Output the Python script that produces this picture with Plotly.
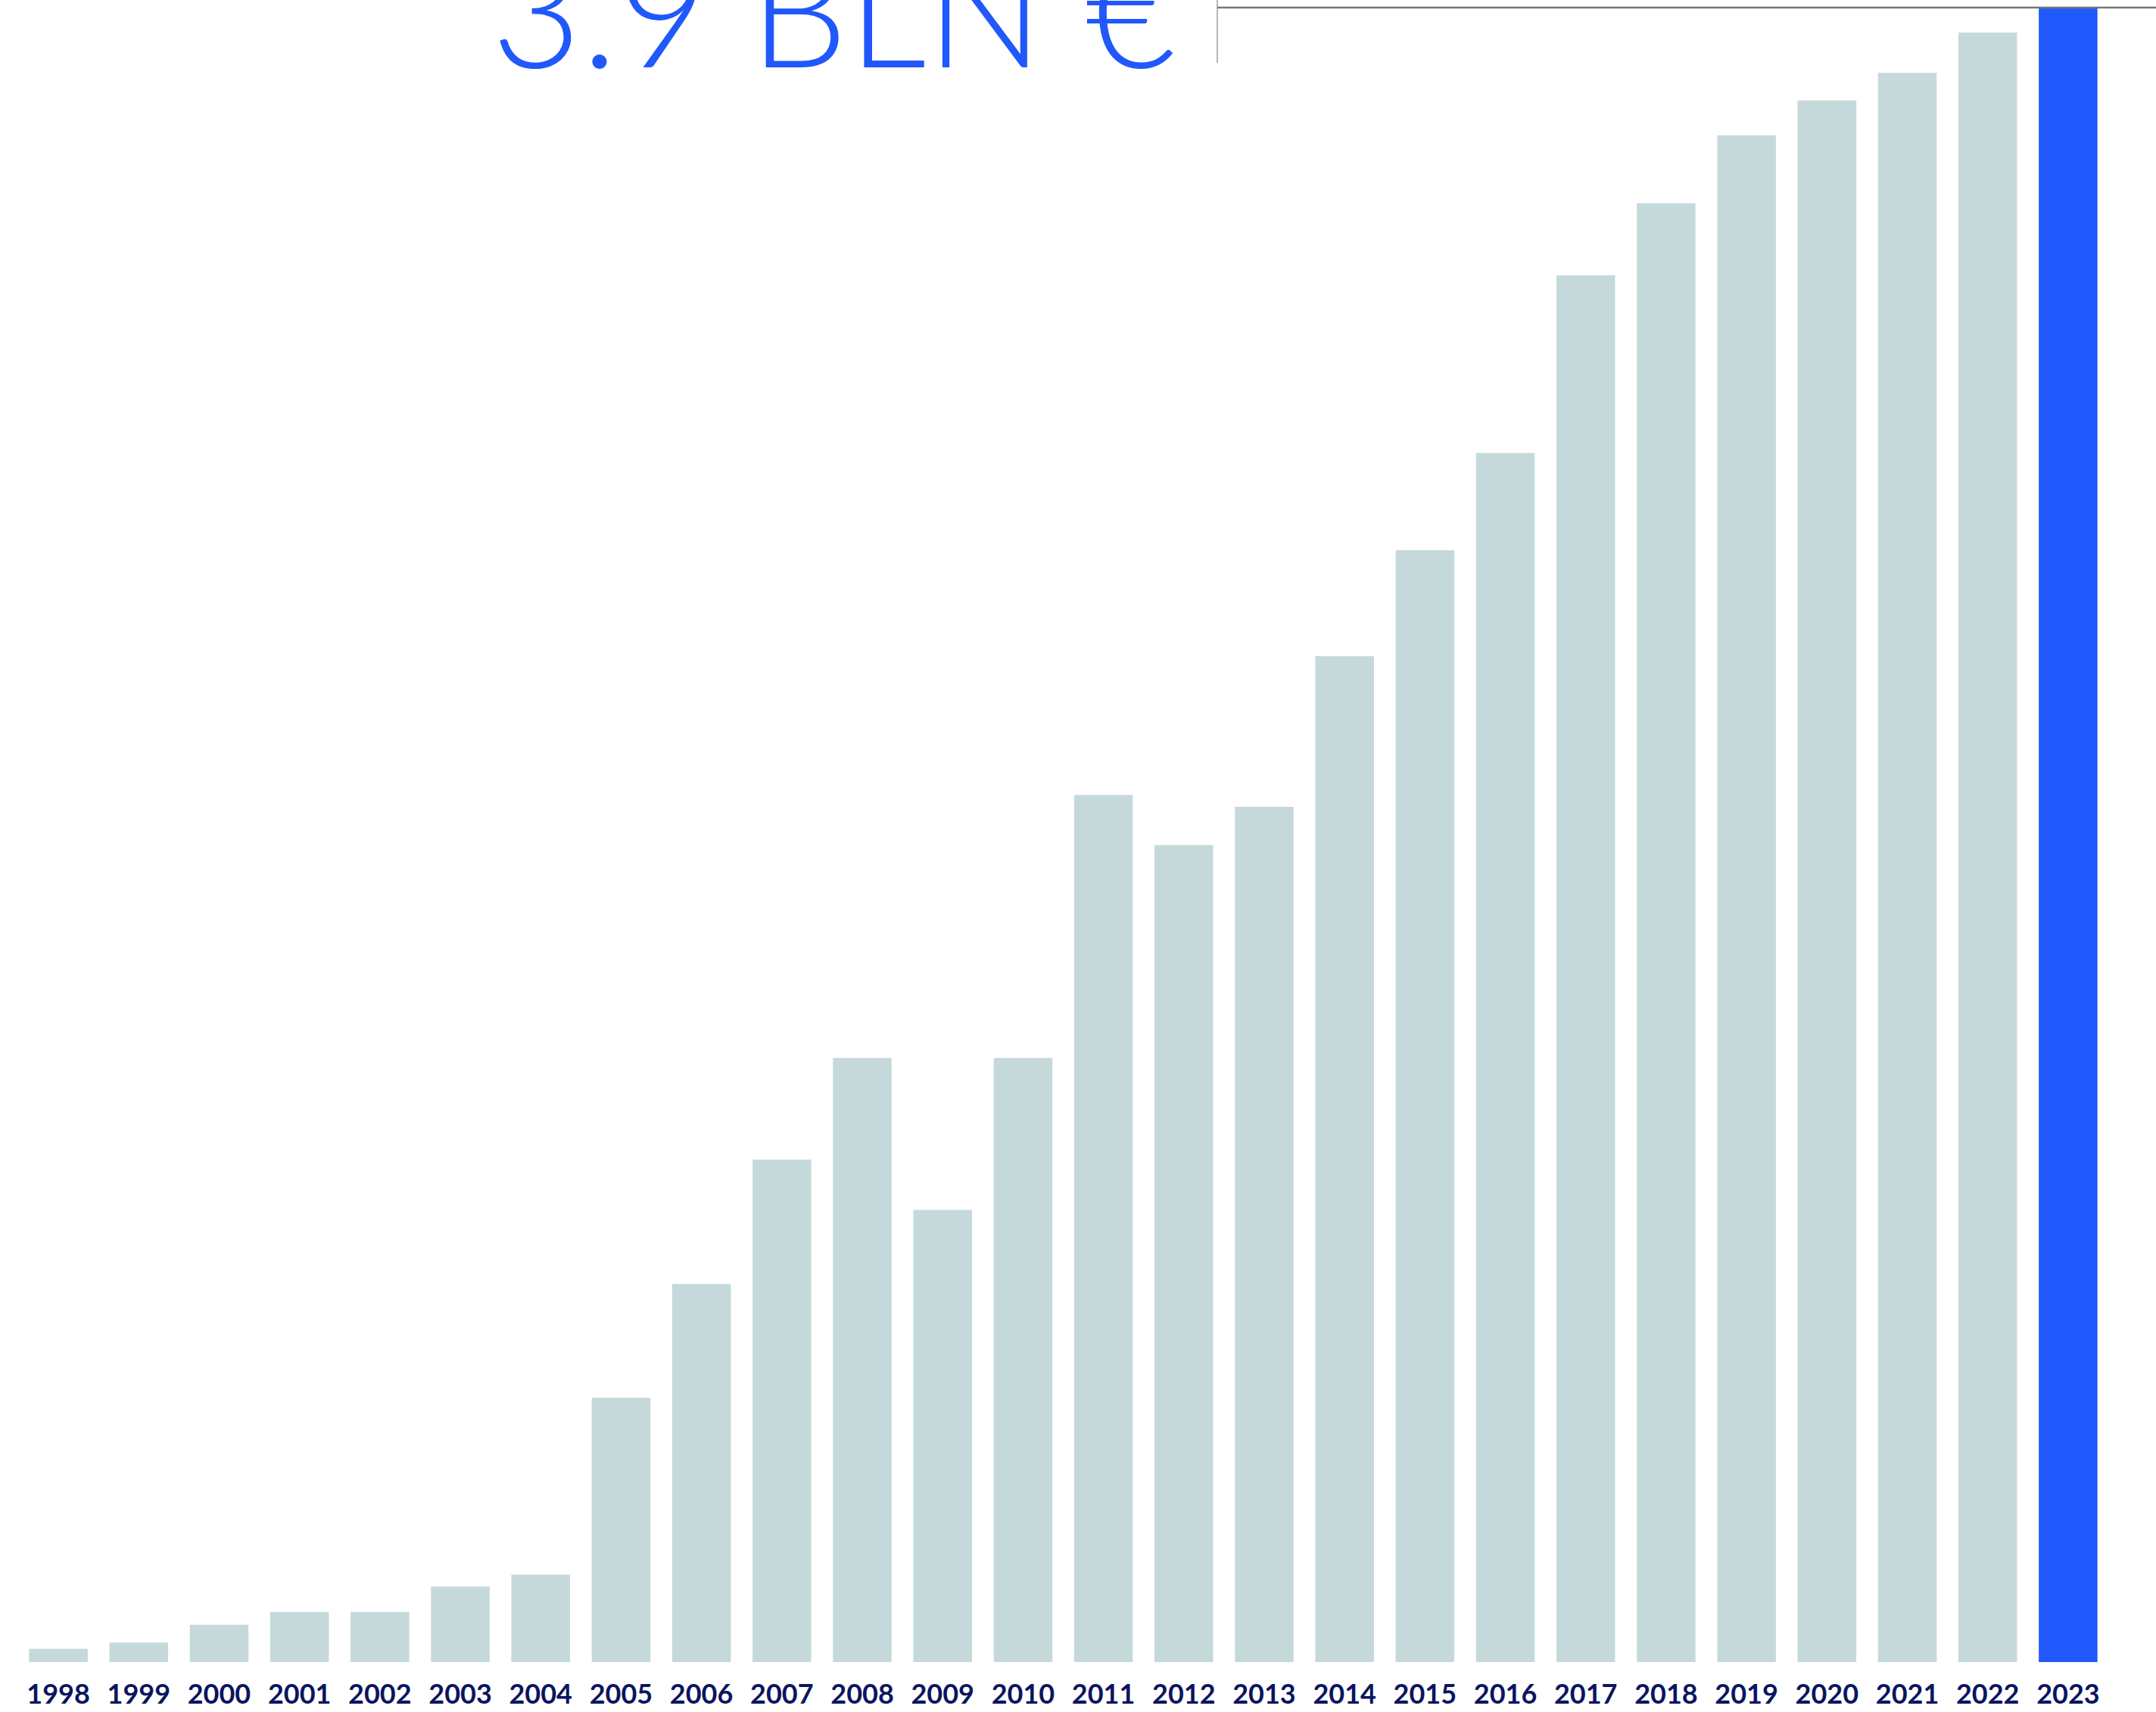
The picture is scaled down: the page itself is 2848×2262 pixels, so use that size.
import plotly.graph_objects as go

years = [str(y) for y in range(1998, 2024)]
values = [0.031, 0.046, 0.088, 0.118, 0.118, 0.178, 0.206, 0.623, 0.891, 1.184,
          1.424, 1.066, 1.424, 2.044, 1.926, 2.016, 2.371, 2.621, 2.850, 3.269,
          3.439, 3.599, 3.681, 3.746, 3.841, 3.900]
headline = "3.9 BLN €"

GREY_BAR = "#c5d9db"
BLUE = "#2058fb"
NAVY = "#0b1560"

colors = [GREY_BAR] * (len(years) - 1) + [BLUE]

W, H = 2848, 2262
top_px, base_px = 10, 2196
ymax = values[-1] * (base_px - 0) / (base_px - top_px)
L, R = 24, 63
pw = W - L - R

fig = go.Figure(go.Bar(
    x=years, y=values, marker=dict(color=colors, line=dict(width=0)),
    hoverinfo="skip",
))

fig.update_layout(
    width=W, height=H,
    margin=dict(l=L, r=R, t=0, b=H - base_px, pad=0),
    paper_bgcolor="white", plot_bgcolor="white",
    bargap=0.27,
    showlegend=False,
    xaxis=dict(type="category", range=[-0.5, len(years) - 0.5],
               showgrid=False, showline=False, zeroline=False, ticks="",
               tickfont=dict(family="Lato", size=36, color=NAVY, weight="bold"),
               ticklabelstandoff=18),
    yaxis=dict(range=[0, ymax], visible=False, showgrid=False, zeroline=False),
)

xline = (1608 - L) / pw
# connector lines: from headline to top of last bar
fig.add_shape(type="line", xref="paper", yref="y",
              x0=xline, x1=len(years) - 1 + 0.37,
              y0=values[-1], y1=values[-1],
              line=dict(color="#777777", width=2.5))
fig.add_shape(type="line", xref="paper", yref="paper",
              x0=xline, x1=xline,
              y0=1 - 83 / base_px, y1=1.01,
              line=dict(color="#888888", width=1.2))

fig.add_annotation(text=headline, xref="paper", yref="paper",
                   x=(1555 - L) / pw, y=1 - 92 / base_px,
                   xanchor="right", yanchor="middle", yshift=82, showarrow=False,
                   font=dict(family="Lato", size=205, color=BLUE, weight=300))

fig.write_html("out.html", config={"displayModeBar": False},
               post_script="document.body.style.margin='0';")
